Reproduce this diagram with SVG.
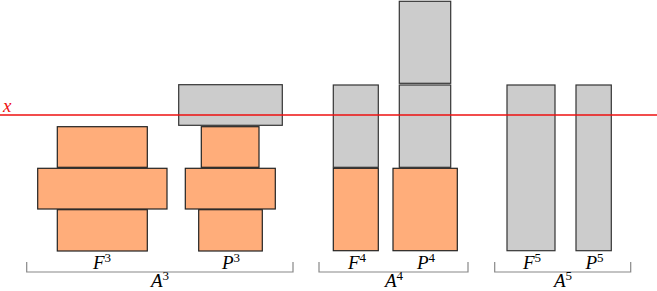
<svg xmlns="http://www.w3.org/2000/svg" width="657" height="291" viewBox="0 0 657 291">
<style>
.o{fill:#FFAD7A;stroke:#222;stroke-width:1.2}
.g{fill:#CCCCCC;stroke:#333;stroke-width:1.2}
.br{fill:none;stroke:#888;stroke-width:1.2}
.t{font-family:"Liberation Serif","Times New Roman",serif;font-style:italic;font-size:19px;fill:#000;text-anchor:middle}
.s{font-size:13px;font-style:normal}
</style>
<rect width="657" height="291" fill="#fff"/>
<g id="F3">
<rect class="o" x="57.3" y="126.7" width="90" height="40.6"/>
<rect class="o" x="37.7" y="168.3" width="129.3" height="40.7"/>
<rect class="o" x="57.3" y="209.7" width="90" height="41.3"/>
<text class="t" x="102" y="268.5">F<tspan class="s" dy="-7">3</tspan></text>
</g>
<g id="P3">
<rect class="o" x="201.3" y="126.7" width="57.7" height="40.6"/>
<rect class="o" x="185.3" y="168.3" width="90" height="40.7"/>
<rect class="o" x="198.7" y="209.7" width="63.6" height="41.3"/>
<rect class="g" x="178.7" y="84.7" width="103.6" height="40.6"/>
<text class="t" x="231" y="268.5">P<tspan class="s" dy="-7">3</tspan></text>
</g>
<g id="F4">
<rect class="g" x="333.3" y="85" width="45" height="82.3"/>
<rect class="o" x="333.3" y="168.3" width="45" height="82.4"/>
<text class="t" x="357" y="268.5">F<tspan class="s" dy="-7">4</tspan></text>
</g>
<g id="P4">
<rect class="g" x="399.3" y="1.3" width="51.4" height="82"/>
<rect class="g" x="399.3" y="85" width="51.4" height="82.3"/>
<rect class="o" x="393" y="168.3" width="64.3" height="82.4"/>
<text class="t" x="426" y="268.5">P<tspan class="s" dy="-7">4</tspan></text>
</g>
<g id="F5">
<rect class="g" x="507" y="85" width="48" height="165.7"/>
<text class="t" x="532" y="268.5">F<tspan class="s" dy="-7">5</tspan></text>
</g>
<g id="P5">
<rect class="g" x="576" y="85" width="35.3" height="165.7"/>
<text class="t" x="594.5" y="268.5">P<tspan class="s" dy="-7">5</tspan></text>
</g>
<g id="x-line">
<line x1="0" y1="115" x2="657" y2="115" stroke="#EE1111" stroke-width="1.3"/>
<text x="3" y="112" style="font-family:'Liberation Serif',serif;font-style:italic;font-size:19px;fill:#EE1111">x</text>
</g>
<g id="A3">
<path class="br" d="M26.7,262 V272 H293 V262"/>
<text class="t" x="160" y="287">A<tspan class="s" dy="-7">3</tspan></text>
</g>
<g id="A4">
<path class="br" d="M319,262 V272 H468 V262"/>
<text class="t" x="394" y="287">A<tspan class="s" dy="-7">4</tspan></text>
</g>
<g id="A5">
<path class="br" d="M494.7,262 V272 H630.7 V262"/>
<text class="t" x="563" y="287">A<tspan class="s" dy="-7">5</tspan></text>
</g>
</svg>
